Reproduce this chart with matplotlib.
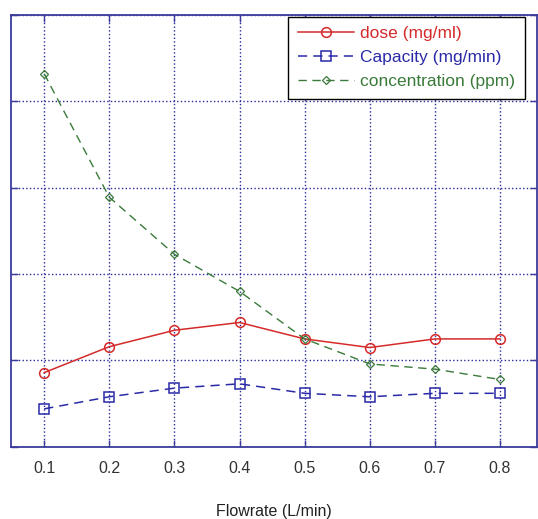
import matplotlib
matplotlib.use('Agg')
import matplotlib.pyplot as plt

plt.rcParams['font.family'] = ['Liberation Sans', 'DejaVu Sans']

# values
flowrate = [0.1, 0.2, 0.3, 0.4, 0.5, 0.6, 0.7, 0.8]
dose = [0.86, 1.16, 1.35, 1.44, 1.25, 1.15, 1.25, 1.25]
capacity = [0.44, 0.58, 0.68, 0.73, 0.62, 0.58, 0.62, 0.62]
concentration = [4.32, 2.89, 2.23, 1.80, 1.25, 0.96, 0.90, 0.78]

axcol = '#3b3b9b'
red = '#d42a2a'
blue = '#2a2aa8'
green = '#3a7a3a'

fig = plt.figure(figsize=(5.38, 5.19), dpi=100)
ax = fig.add_axes([0.0204, 0.139, 0.978, 0.832])

ax.plot(flowrate, dose, '-o', color=red, lw=1.1, ms=7, mfc='none', mew=1.1,
        label='dose (mg/ml)')
ax.plot(flowrate, capacity, '--s', color=blue, lw=1.1, ms=7, mfc='none', mew=1.1,
        dashes=(6, 4), label='Capacity (mg/min)')
ax.plot(flowrate, concentration, '--D', color=green, lw=1.0, ms=4.5, mfc='none', mew=0.9,
        dashes=(6, 4), label='concentration (ppm)')

ax.set_xlim(0.049, 0.857)
ax.set_ylim(0, 5)
ax.set_xticks(flowrate)
ax.set_yticks([0, 1, 2, 3, 4, 5])
ax.set_yticklabels([])
ax.tick_params(axis='both', direction='in', length=5, width=1, color=axcol,
               top=True, right=True, labelsize=11.5, labelcolor='#333333', pad=10)
for s in ax.spines.values():
    s.set_color(axcol)
    s.set_linewidth(1.3)
ax.grid(True, linestyle=':', color='#2a2a9a', lw=1.0)
ax.set_xlabel('Flowrate (L/min)', fontsize=11.5, color='#222222', labelpad=20)

leg = ax.legend(loc='upper right', bbox_to_anchor=(0.977, 0.996), fontsize=12.5,
                fancybox=False, framealpha=1, edgecolor='black', borderpad=0.55,
                labelspacing=0.5, handlelength=3.2, handletextpad=0.4,
                borderaxespad=0)
leg.get_frame().set_linewidth(1.0)
for t, c in zip(leg.get_texts(), [red, blue, green]):
    t.set_color(c)

fig.savefig('out.png', dpi=100)
